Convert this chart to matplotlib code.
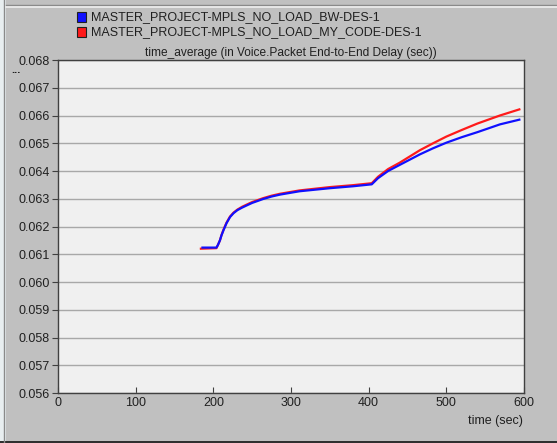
import matplotlib.pyplot as plt
from matplotlib.patches import Rectangle
from matplotlib.lines import Line2D

# time_average of voice packet end-to-end delay, two simulation runs
t_bw = [186, 204, 206, 208.5, 210.5, 213, 217, 221.5, 226, 231, 237, 243,
        250, 256, 264, 275, 286, 311, 350, 380, 404,
        412, 425, 440, 466, 483, 500, 520, 540, 569, 594]
d_bw = [0.06124, 0.06124, 0.06134, 0.06150, 0.06168, 0.06186, 0.06212,
        0.06234, 0.06248, 0.06259, 0.06268, 0.06276, 0.06285, 0.06291,
        0.06299, 0.06308, 0.06315, 0.06327, 0.06338, 0.06345, 0.06352,
        0.06374, 0.06400, 0.06422, 0.06460, 0.06482, 0.06502, 0.06522,
        0.06540, 0.06568, 0.06585]

t_my = [184, 204, 206, 208.5, 210.5, 213, 217, 221.5, 226, 231, 237, 243,
        250, 256, 264, 275, 286, 311, 350, 380, 404,
        412, 425, 440, 466, 483, 500, 520, 540, 569, 594]
d_my = [0.06120, 0.06122, 0.06134, 0.06150, 0.06169, 0.06188, 0.06214,
        0.06236, 0.06250, 0.06261, 0.06271, 0.06279, 0.06288, 0.06294,
        0.06302, 0.06311, 0.06318, 0.06330, 0.06342, 0.06349, 0.06356,
        0.06379, 0.06407, 0.06430, 0.06475, 0.06500, 0.06524, 0.06548,
        0.06571, 0.06600, 0.06622]

names = ["MASTER_PROJECT-MPLS_NO_LOAD_BW-DES-1",
         "MASTER_PROJECT-MPLS_NO_LOAD_MY_CODE-DES-1"]
colors = ["#1010ff", "#ff1a1a"]

y_ticks = [0.056, 0.057, 0.058, 0.059, 0.060, 0.061, 0.062,
           0.063, 0.064, 0.065, 0.066, 0.067, 0.068]
x_ticks = [0, 100, 200, 300, 400, 500, 600]

plt.rcParams['font.family'] = ['Liberation Sans', 'DejaVu Sans']

fig = plt.figure(figsize=(5.57, 4.43), dpi=100, facecolor="#c0c0c0")

# window frame
fig.add_artist(Rectangle((0, 0), 6 / 557, 1, transform=fig.transFigure,
                         facecolor="#e8eef0", edgecolor="none"))
fig.add_artist(Line2D([3.5 / 557, 3.5 / 557], [0, 1], transform=fig.transFigure,
                      color="#8a8a8a", lw=1))
fig.add_artist(Line2D([6 / 557, 1], [1 - 4.5 / 443, 1 - 4.5 / 443],
                      transform=fig.transFigure, color="#8a8a8a", lw=1))
fig.add_artist(Line2D([6 / 557, 1], [1 - 6.5 / 443, 1 - 6.5 / 443],
                      transform=fig.transFigure, color="#eeeeee", lw=1.2))
fig.add_artist(Rectangle((0, 0), 1, 2.5 / 443, transform=fig.transFigure,
                         facecolor="#303030", edgecolor="none"))

ax = fig.add_axes([58 / 557, 1 - 393 / 443, 466 / 557, 333 / 443])
ax.set_facecolor("#f0f0f0")

ax.plot(t_my, d_my, color=colors[1], lw=1.6, zorder=3)
ax.plot(t_bw, d_bw, color=colors[0], lw=1.6, zorder=4)

ax.set_xlim(0, 600)
ax.set_ylim(0.056, 0.068)
ax.set_xticks(x_ticks)
ax.set_yticks(y_ticks)
ax.set_yticklabels([f"{v:.3f}" for v in y_ticks])
ax.grid(axis="y", color="#a8a8a8", lw=1)
ax.set_axisbelow(True)
ax.tick_params(axis="y", direction="out", length=4, color="#404040",
               labelsize=9, pad=2, labelcolor="#202020")
ax.tick_params(axis="x", direction="in", length=4, color="#404040",
               labelsize=9, pad=3, labelcolor="#202020")
for s in ax.spines.values():
    s.set_color("#404040")
    s.set_linewidth(1)

ax.set_title("time_average (in Voice.Packet End-to-End Delay (sec))",
             fontsize=8.6, color="#202020", pad=3)
fig.text(523 / 557, 1 - 421 / 443, "time (sec)", ha="right", va="center",
         fontsize=9, color="#202020")
fig.text(16 / 557, 1 - 70 / 443, "...", ha="center", va="center",
         fontsize=8, fontweight="bold", color="#202020")

# legend block above the plot
for i, (name, c) in enumerate(zip(names, colors)):
    yc = 1 - (17 + 15 * i) / 443
    fig.add_artist(Rectangle((77 / 557, yc - 4.5 / 443), 9 / 557, 9 / 443,
                             transform=fig.transFigure, facecolor=c,
                             edgecolor="#202020", lw=0.8))
    fig.text(91 / 557, yc, name, ha="left", va="center", fontsize=9,
             color="#202020")

fig.savefig("out.png", dpi=100, facecolor=fig.get_facecolor())
